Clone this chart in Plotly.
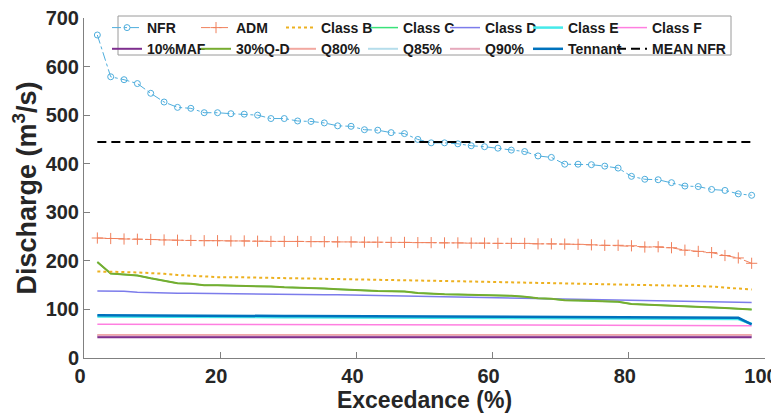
import plotly.graph_objects as go

exceedance = [1.96, 3.92, 5.88, 7.84, 9.80, 11.76, 13.73, 15.69, 17.65, 19.61,
              21.57, 23.53, 25.49, 27.45, 29.41, 31.37, 33.33, 35.29, 37.25, 39.22,
              41.18, 43.14, 45.10, 47.06, 49.02, 50.98, 52.94, 54.90, 56.86, 58.82,
              60.78, 62.75, 64.71, 66.67, 68.63, 70.59, 72.55, 74.51, 76.47, 78.43,
              80.39, 82.35, 84.31, 86.27, 88.24, 90.20, 92.16, 94.12, 96.08, 98.04]

nfr = [665, 579, 573, 565, 545, 527, 516, 514, 505, 505,
       503, 502, 500, 493, 493, 488, 487, 484, 478, 477,
       470, 469, 464, 462, 450, 443, 443, 441, 437, 435,
       432, 428, 425, 416, 413, 399, 399, 398, 395, 391,
       374, 368, 367, 361, 354, 353, 347, 345, 338, 335]

adm = [247, 246, 245, 244.5, 244, 243, 242.5, 242, 241.5, 241.5,
       241, 241, 240.5, 240, 240, 240, 239.5, 239.5, 239, 239,
       238.5, 238.5, 238, 238, 237.5, 237.5, 237, 237, 236.5, 236.5,
       236, 236, 236, 235, 235, 234.5, 234, 233, 232, 232,
       231, 228.5, 229, 227, 222, 219.5, 217, 211, 206, 195]

class_b = [178, 178, 177, 176, 175, 173.5, 171, 169, 167, 166.5,
           166.5, 166, 166, 165.5, 165.5, 165, 165, 164.5, 164, 163.5,
           162.5, 162, 161.5, 161, 160, 159, 158.5, 158, 157.5, 157,
           156.5, 156, 155.5, 155, 154.5, 154, 153.5, 153, 152.5, 152,
           151, 150.5, 150, 149.5, 148.5, 148, 147, 145, 143, 141]

q30_d = [197.5, 174, 172, 170, 164, 159, 154, 153, 150, 150,
         149.5, 149, 148, 147, 145.5, 145, 144, 143, 141.5, 140,
         138.5, 138, 137.5, 137, 134, 132, 131, 130.5, 130, 129,
         128.5, 128, 126, 123, 122, 119, 118.5, 118, 117.5, 116,
         111, 110, 109, 108, 107, 106, 105, 103, 101.5, 100]

class_c = q30_d

class_d = [138, 138, 137.5, 135.5, 134.5, 134, 133.5, 133.5, 133, 133,
           132.5, 132, 132, 131.5, 131, 131, 130.5, 130, 130, 129.5,
           129, 128.5, 128, 127.5, 127, 126.5, 126, 125.5, 125, 124.5,
           124, 123.5, 123, 122.5, 122, 121.5, 121, 120.5, 120, 119.5,
           119, 118.5, 118, 117.5, 117, 116.5, 116, 115.5, 115, 114.5]

tennant = [88, 88, 87.8, 87.7, 87.6, 87.5, 87.4, 87.3, 87.2, 87,
           86.9, 86.8, 86.7, 86.6, 86.5, 86.4, 86.3, 86.2, 86.1, 86,
           85.9, 85.8, 85.7, 85.6, 85.5, 85.4, 85.3, 85.2, 85.1, 85,
           84.9, 84.8, 84.7, 84.6, 84.5, 84.4, 84.3, 84.2, 84, 83.8,
           83.7, 83.6, 83.5, 83.4, 83.3, 83.2, 83.1, 83, 82.8, 69]

class_e = [85.5, 85.5, 85.3, 85.2, 85.1, 85, 84.9, 84.8, 84.7, 84.5,
           84.4, 84.3, 84.2, 84.1, 84, 83.9, 83.8, 83.7, 83.6, 83.5,
           83.4, 83.3, 83.2, 83.1, 83, 82.9, 82.8, 82.7, 82.6, 82.5,
           82.4, 82.3, 82.2, 82.1, 82, 81.9, 81.8, 81.7, 81.5, 81.3,
           81.2, 81.1, 81, 80.9, 80.8, 80.7, 80.6, 80.5, 80.3, 70]

class_f = [69.5, 69.5, 69.4, 69.4, 69.3, 69.3, 69.2, 69.2, 69.1, 69.1,
           69, 69, 68.9, 68.9, 68.8, 68.8, 68.7, 68.7, 68.6, 68.6,
           68.5, 68.5, 68.4, 68.4, 68.3, 68.3, 68.2, 68.2, 68.1, 68.1,
           68, 68, 67.9, 67.9, 67.8, 67.8, 67.7, 67.7, 67.6, 67.6,
           67.5, 67.5, 67.4, 67.4, 67.3, 67.3, 67.2, 67.1, 67, 66.5]

q80_value = 47.5
q85_value = 46.5
q90_value = 46.0
maf10_value = 42.5
mean_nfr_value = 444.5

x_ticks = [0, 20, 40, 60, 80, 100]
y_ticks = [0, 100, 200, 300, 400, 500, 600, 700]

n = len(exceedance)
q80 = [q80_value] * n
q85 = [q85_value] * n
q90 = [q90_value] * n
maf10 = [maf10_value] * n
mean_nfr = [mean_nfr_value] * n

FONT = "Liberation Sans, Arial, sans-serif"

fig = go.Figure()

def add(name, y, color, width, legend, rank, dash="solid", mode="lines", marker=None):
    fig.add_trace(go.Scatter(
        x=exceedance, y=y, name=name, mode=mode,
        line=dict(color=color, width=width, dash=dash),
        marker=marker, legend=legend, legendrank=rank))

# drawing order (bottom to top)
add("Q85%", q85, "#B5DDEB", 2, "legend4", 2)
add("Q80%", q80, "#F2A8A0", 2, "legend3", 2)
add("Q90%", q90, "#E6A9BC", 2, "legend5", 2)
add("10%MAF", maf10, "#7E2F8E", 2, "legend", 2)
add("Class F", class_f, "#FF7FE0", 1.5, "legend7", 1)
add("Class E", class_e, "#45EAEA", 2.5, "legend6", 1)
add("Tennant", tennant, "#0072BD", 2.5, "legend6", 2)
add("Class C", class_c, "#3AE27A", 1.5, "legend4", 1)
add("Class D", class_d, "#7C7CEB", 1.5, "legend5", 1)
add("30%Q-D", q30_d, "#77AC30", 2, "legend2", 2)
add("Class B", class_b, "#EDB120", 2, "legend3", 1, dash="dot")
add("ADM", adm, "#F0805C", 1, "legend2", 1, dash="dashdot", mode="lines+markers",
    marker=dict(symbol="cross-thin-open", size=8, line=dict(color="#F0805C", width=1)))
add("NFR", nfr, "#4FAEDD", 1, "legend", 1, dash="dashdot", mode="lines+markers",
    marker=dict(symbol="circle-open", size=6, line=dict(color="#4FAEDD", width=1)))
add("MEAN NFR", mean_nfr, "#000000", 2, "legend7", 2, dash="9px,5px")

# page offset introduced by the browser's default body margin
OFF = 8
page_plot_left, page_plot_right = 84, 765
page_plot_top, page_plot_bottom = 18, 358
plot_left = page_plot_left - OFF
plot_top = page_plot_top - OFF
plot_w = page_plot_right - page_plot_left
plot_h = page_plot_bottom - page_plot_top
fig_w, fig_h = 779 - OFF, 418 - OFF

def px_to_paper_x(px):
    return (px - page_plot_left) / plot_w

def px_to_paper_y(py):
    return 1 - (py - page_plot_top) / plot_h

text_starts = [147, 236, 321, 403, 485, 568, 652]
legend_names = ["legend", "legend2", "legend3", "legend4", "legend5", "legend6", "legend7"]
legend_top_px = 12
leg_layout = {}
for name, ts in zip(legend_names, text_starts):
    leg_layout[name] = dict(
        x=px_to_paper_x(ts - 40), xanchor="left",
        y=px_to_paper_y(legend_top_px), yanchor="top",
        bgcolor="rgba(0,0,0,0)", borderwidth=0, orientation="v",
        font=dict(family=FONT, size=14, color="#1a1a1a", weight="bold"),
        tracegroupgap=0, itemclick=False)

box_l, box_r, box_t, box_b = 118, 731, 16, 55
fig.add_shape(type="rect", xref="paper", yref="paper",
              x0=px_to_paper_x(box_l), x1=px_to_paper_x(box_r),
              y0=px_to_paper_y(box_b), y1=px_to_paper_y(box_t),
              line=dict(color="#9a9a9a", width=1), fillcolor="white", layer="above")

axis_common = dict(
    showgrid=False, zeroline=False, showline=True, linecolor="#808080", linewidth=1,
    ticks="inside", ticklen=6, tickcolor="#808080", mirror=False, automargin=False,
    ticklabeloverflow="allow",
    tickfont=dict(family=FONT, size=20, color="#262626", weight="bold"),
)

fig.update_layout(
    width=fig_w, height=fig_h,
    margin=dict(l=plot_left, r=fig_w - plot_left - plot_w, t=plot_top,
                b=fig_h - plot_top - plot_h, autoexpand=False),
    paper_bgcolor="white", plot_bgcolor="white",
    showlegend=True,
    xaxis=dict(range=[0, 100], tickvals=x_ticks, ticklabelshift=-4, **axis_common,
               title=dict(text="Exceedance (%)", standoff=3,
                          font=dict(family=FONT, size=23, color="#262626", weight="bold"))),
    yaxis=dict(range=[0, 700], tickvals=y_ticks, **axis_common,
               title=dict(text="Discharge (m<sup>3</sup>/s)", standoff=1,
                          font=dict(family=FONT, size=27, color="#262626", weight="bold"))),
    **leg_layout,
)

fig.write_html("out.html")
